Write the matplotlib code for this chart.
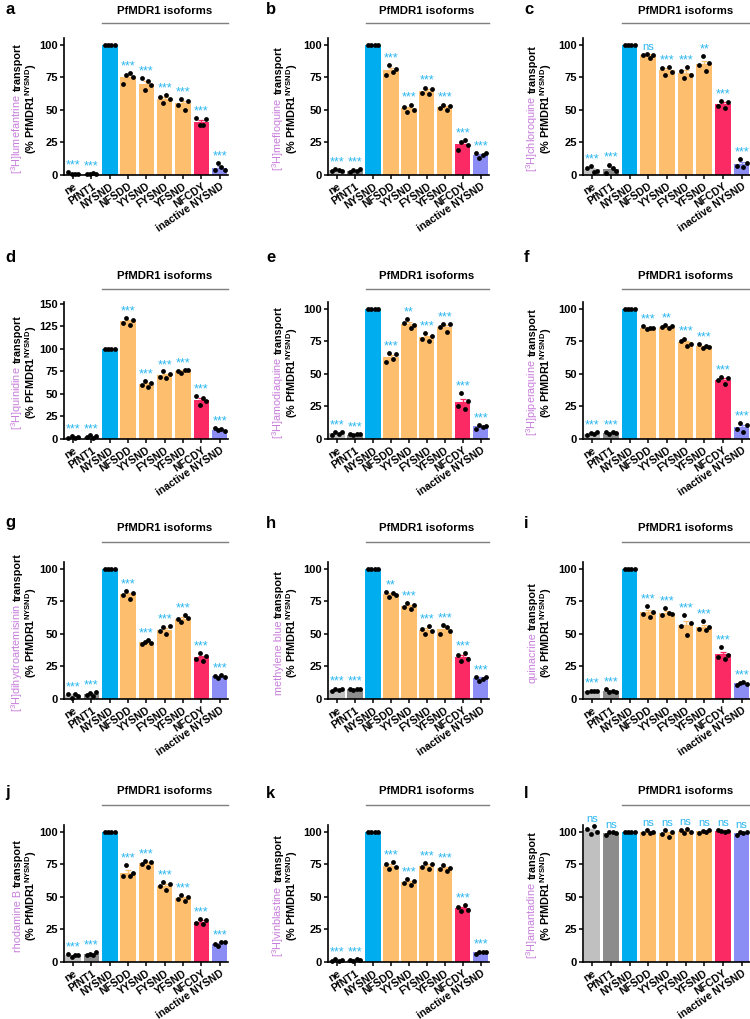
import numpy as np
import matplotlib
matplotlib.use("Agg")
import matplotlib.pyplot as plt
from matplotlib.transforms import blended_transform_factory

plt.rcParams['font.family'] = ['Liberation Sans', 'DejaVu Sans']
plt.rcParams['mathtext.fontset'] = 'custom'
plt.rcParams['mathtext.rm'] = 'Liberation Sans'
plt.rcParams['mathtext.bf'] = 'Liberation Sans:bold'

# ---- data ----
labels = ['ne', 'PfNT1', 'NYSND', 'NFSDD', 'YYSND', 'FYSND', 'YFSND', 'NFCDY', 'inactive NYSND']
bar_colors = ['#c0c0c0', '#8c8c8c', '#00aeef', '#fdbe6e', '#fdbe6e', '#fdbe6e', '#fdbe6e', '#fb2a64', '#8b8cf4']

letters = list('abcdefghijkl')
substrates = [r'[$^3$H]lumefantrine', r'[$^3$H]mefloquine', r'[$^3$H]chloroquine',
              r'[$^3$H]quinidine', r'[$^3$H]amodiaquine', r'[$^3$H]piperaquine',
              r'[$^3$H]dihydroartemisinin', 'methylene blue', 'quinacrine',
              'rhodamine B', r'[$^3$H]vinblastine', r'[$^3$H]amantadine']

# four replicate values per bar (% of NYSND)
pts_a = [[2, 1, 1, 0.5], [0.5, 1, 1.5, 1], [100] * 4, [70, 77, 78, 75], [74, 65, 72, 69],
         [60, 55, 61, 58], [54, 58.5, 50, 57], [44, 38, 38, 43], [3.5, 9, 6, 4]]
pts_b = [[3, 4.5, 3.5, 3], [2, 4, 3, 4.5], [100] * 4, [77, 84, 79, 81], [52, 48, 54, 50],
         [63, 67, 62, 66], [51, 54, 50, 53], [19, 25, 27, 23], [17, 13, 15, 17]]
pts_c = [[5, 7, 2, 3], [1.5, 8, 5, 3], [100] * 4, [92, 93, 90, 92], [82, 77, 83, 79],
         [80, 74, 83, 77], [84, 91, 80, 86], [53, 57, 51, 56], [7, 12, 6, 9]]
pts_d = [[1.5, 3, 1, 2], [2, 4, 1.5, 3], [100] * 4, [129, 134, 127, 132], [60, 64, 58, 62],
         [69, 75, 68, 72], [75, 73, 77, 77], [48, 38, 46, 42], [12, 10, 11, 9]]
pts_e = [[3, 5.5, 4, 5], [3.5, 3, 3.5, 3.5], [100] * 4, [59, 66, 61, 65], [89, 92, 85, 87],
         [77, 81, 75, 79], [86, 88, 82, 88], [25, 35, 23, 29], [8, 11, 9.5, 10]]
pts_f = [[3, 4.5, 3.5, 5.5], [5.5, 4, 5, 4.5], [100] * 4, [86.5, 84, 85, 85], [86, 87, 85, 86.5],
         [75, 77, 71, 73], [72.5, 70, 71, 70.5], [45, 47.5, 42, 47], [8, 12.5, 5, 11]]
pts_g = [[4, 1, 4, 2.5], [3, 4.5, 2.5, 5.5], [100] * 4, [80, 83, 77, 81], [42, 44, 45.5, 43],
         [52, 55, 50, 56], [61, 59, 64, 62], [31, 35, 29, 33], [18, 16, 18.5, 17]]
pts_h = [[6.5, 8, 7, 7.5], [8, 7, 8, 7.5], [100] * 4, [82, 78, 81, 80], [70.5, 73.5, 69, 72],
         [54, 50, 56, 52], [50, 57, 55, 52], [34, 29, 35.5, 31], [17, 14, 15.5, 17]]
pts_i = [[5, 6.5, 6, 6.5], [7.5, 5, 6.5, 5.5], [100] * 4, [65, 71, 63, 67], [64, 70, 66, 65],
         [56, 64, 49, 58], [54, 60, 53, 55], [32, 40, 31, 34], [11, 12.5, 13, 11.5]]
pts_j = [[6, 4, 5, 5], [5, 6.5, 5.5, 7.5], [100] * 4, [66, 74, 66, 68], [75, 77.5, 73, 76.5],
         [58, 61.5, 55, 60], [48.5, 51, 47, 50], [30, 33, 29, 32], [14, 12, 15, 15]]
pts_k = [[1, 2, 1, 1.5], [1.5, 1, 2.5, 1.5], [100] * 4, [75, 71, 76.5, 73], [60.5, 63.5, 59, 62],
         [73, 76, 71, 75], [71, 74, 70, 72], [42, 39, 43.5, 40], [6.5, 8, 7.5, 8]]
pts_l = [[102, 98, 104, 100], [97.5, 99.5, 100, 99], [100] * 4, [99, 101, 98.5, 100], [98, 101, 96, 100],
         [101, 99, 102, 100], [99, 100.5, 100, 101], [101.5, 100.5, 100, 100.5], [97.5, 99.5, 99, 100]]
all_pts = [pts_a, pts_b, pts_c, pts_d, pts_e, pts_f, pts_g, pts_h, pts_i, pts_j, pts_k, pts_l]

s3 = ['***', '***', ''] + ['***'] * 6
sig = [s3, s3,
       ['***', '***', '', 'ns', '***', '***', '**', '***', '***'],
       s3,
       ['***', '***', '', '***', '**', '***', '***', '***', '***'],
       ['***', '***', '', '***', '**', '***', '***', '***', '***'],
       s3,
       ['***', '***', '', '**', '***', '***', '***', '***', '***'],
       s3, s3, s3,
       ['ns', 'ns', ''] + ['ns'] * 6]

# ---- layout (pixels) ----
W, H = 750, 1019
col_left = [64, 328, 583]
col_right = [228, 489, 750]
row_zero = [175, 439, 699, 962]
ax_h = 137
letter_x = [5, 266, 524]
letter_y = [10, 258, 523, 793]
group_text_y = [11, 276, 528, 791]
group_line_y = [23, 289, 542, 805]
ylab1_x = [21, 282, 536]
ylab2_x = [35, 296, 550]

purple = '#c77ddb'
star_col = '#29b6f0'

fig = plt.figure(figsize=(7.5, 10.19), dpi=100)
renderer = fig.canvas.get_renderer()


def stacked_vertical(parts, x_px, y_center_px, size=7.8):
    # rotated text pieces laid end to end along a common baseline
    texts = []
    for s, c, w in parts:
        t = fig.text(0, 0, s, color=c, fontweight=w, fontsize=size, rotation=90,
                     rotation_mode='anchor', ha='left', va='baseline')
        texts.append(t)
    lens = [t.get_window_extent(renderer).height for t in texts]
    gap = 3.0
    total = sum(lens) + gap * (len(lens) - 1)
    y = y_center_px + total / 2
    for t, l in zip(texts, lens):
        t.set_position((x_px / W, 1 - y / H))
        y -= l + gap


x = np.arange(len(labels))
offs = np.array([-0.27, -0.09, 0.09, 0.27])

for k in range(12):
    r, c = divmod(k, 3)
    pts = np.array(all_pts[k], dtype=float)
    means = pts.mean(axis=1)
    sems = pts.std(axis=1, ddof=1) / 2
    ymax = 152 if k == 3 else 105
    left = col_left[c] / W
    width = (col_right[c] - col_left[c]) / W
    bottom = 1 - row_zero[r] / H
    ax = fig.add_axes([left, bottom, width, ax_h / H])

    ax.bar(x, means, width=0.84, color=bar_colors, zorder=1)
    for i in range(len(labels)):
        if sems[i] > 0:
            ax.errorbar(x[i], means[i], yerr=[[0], [sems[i]]], color=bar_colors[i],
                        lw=0.9, capsize=2, capthick=0.9, zorder=1)
        ax.scatter(x[i] + offs, pts[i], s=12, color='black', zorder=3, linewidths=0,
                   clip_on=False)
        if sig[k][i]:
            top = max(pts[i].max(), means[i] + sems[i])
            if sig[k][i] == 'ns':
                ax.text(x[i], top + 1.5, 'ns', ha='center', va='bottom', color=star_col,
                        fontsize=8, clip_on=False)
            else:
                ax.text(x[i], top + 0.5, sig[k][i], ha='center', va='bottom',
                        color=star_col, fontsize=9, clip_on=False)

    ax.set_xlim(-0.5, 8.45)
    ax.set_ylim(0, ymax)
    ax.set_yticks(np.arange(0, ymax, 25))
    ax.set_xticks(x)
    ax.set_xticklabels(labels, rotation=34, ha='right', rotation_mode='anchor',
                       fontsize=7.6, fontweight='bold')
    for t in ax.get_yticklabels():
        t.set_fontweight('bold')
        t.set_fontsize(8)
    for s in ['top', 'right']:
        ax.spines[s].set_visible(False)
    for s in ['left', 'bottom']:
        ax.spines[s].set_linewidth(1.2)
    ax.tick_params(width=1.1, length=3, pad=1.5)

    # group bracket
    tr = blended_transform_factory(ax.transData, fig.transFigure)
    ax.plot([1.6, 8.45], [1 - group_line_y[r] / H] * 2, color='#7f7f7f', lw=1.0,
            transform=tr, clip_on=False)
    ax.text(5.0, 1 - group_text_y[r] / H, 'PfMDR1 isoforms', transform=tr,
            ha='center', va='center', fontsize=8.2, fontweight='bold')

    fig.text(letter_x[c] / W, 1 - letter_y[r] / H, letters[k], fontsize=12,
             fontweight='bold', ha='left', va='center')

    yc = row_zero[r] - ax_h / 2 + 2
    stacked_vertical([(substrates[k], purple, 'normal'), ('transport', 'black', 'bold')],
                     ylab1_x[c], yc)
    pf = 'PFMDR1' if k == 3 else 'PfMDR1'
    stacked_vertical([('(% ' + pf + r'$^{\mathbf{NYSND}}$)', 'black', 'bold')],
                     ylab2_x[c], yc)

fig.savefig('out.png', dpi=100)
